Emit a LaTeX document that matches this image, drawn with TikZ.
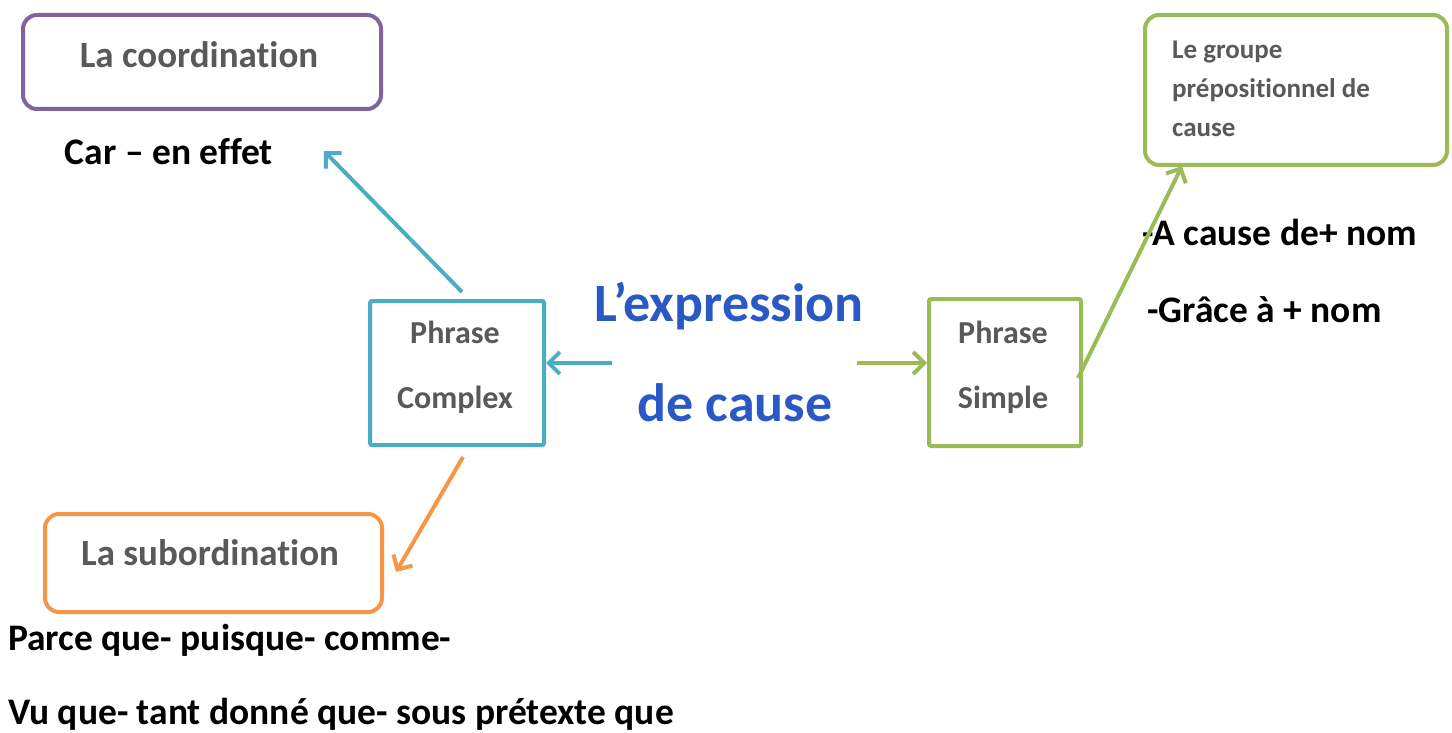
\documentclass[tikz,border=0pt]{standalone}
\usepackage{fontspec}
\setmainfont{Carlito}[Ligatures=NoCommon]
\usetikzlibrary{arrows.meta}
\definecolor{cpurple}{RGB}{128,100,162}
\definecolor{cblue}{RGB}{75,172,198}
\definecolor{cgreen}{RGB}{155,187,89}
\definecolor{corange}{RGB}{247,150,70}
\definecolor{cgray}{RGB}{89,89,89}
\definecolor{ctitle}{RGB}{42,88,196}
\tikzset{
  rbox/.style={draw, line width=4pt, rounded corners=14pt, fill=white},
  sbox/.style={draw, line width=4pt, rounded corners=2pt, fill=white},
  intext/.style={text=cgray, font=\bfseries\fontsize{32}{38}\selectfont},
  bigin/.style={text=cgray, font=\bfseries\fontsize{37}{44}\selectfont},
  blk/.style={text=black, font=\bfseries\fontsize{37.5}{44}\selectfont, inner sep=0pt},
  conn/.style={line width=4pt, -{Straight Barb[length=11pt,width=22pt,line width=4pt]}},
  title/.style={text=ctitle, font=\bfseries\fontsize{54}{64}\selectfont, inner sep=0pt}
}
\begin{document}
\begin{tikzpicture}[x=1pt,y=-1pt]
\useasboundingbox (0,0) rectangle (1452,733);
% boxes
\node[rbox, draw=cpurple, minimum width=358pt, minimum height=94pt, anchor=north west] (coord) at (21,13) {};
\node[bigin] at (199,55) {La coordination};
\node[rbox, draw=corange, minimum width=337pt, minimum height=98pt, anchor=north west] (sub) at (43,512) {};
\node[bigin] at (210,553) {La subordination};
\node[sbox, draw=cblue, minimum width=174pt, minimum height=144pt, anchor=north west] (pc) at (368,299) {};
\node[intext] at (455,332) {Phrase};
\node[intext] at (455,400) {Complex};
\node[sbox, draw=cgreen, minimum width=152pt, minimum height=147pt, anchor=north west] (ps) at (927,297) {};
\node[intext] at (1003,332) {Phrase};
\node[intext] at (1003,400) {Simple};
\node[rbox, draw=cgreen, minimum width=302pt, minimum height=150pt, anchor=north west] (grp) at (1143,13) {};
\node[text=cgray, font=\bfseries\fontsize{27}{39}\selectfont, align=left, anchor=west, inner sep=0pt] at (1172,89) {Le groupe\\prépositionnel de\\cause};
% title
\node[title] (t1) at (729,306) {L’expression};
\node[title] (t2) at (735,403) {de cause};
% texts
\node[blk] (car) at (169,152) {Car – en effet};
\node[blk, anchor=west] (acause) at (1142,232) {-A cause de+ nom};
\node[blk, anchor=west] (grace) at (1147,310) {-Grâce à + nom};
\node[blk, anchor=west] (parce) at (8,640) {Parce que- puisque- comme-};
\node[blk, anchor=west] (vu) at (8,714) {Vu que- tant donné que- sous prétexte que};
% connectors
\coordinate (c1) at (612,363);
\coordinate (c2) at (857,363);
\coordinate (c3) at (462,292);
\coordinate (c4) at (463,457);
\coordinate (c5) at (1078,378);
\coordinate (e3) at (324,151);
\coordinate (e4) at (396,572);
\coordinate (e5) at (1182,166);
\draw[conn, draw=cblue] (c1) -- (c1 -| pc.east);
\draw[conn, draw=cgreen] (c2) -- (c2 -| ps.west);
\draw[conn, draw=cblue] (c3) -- (e3);
\draw[conn, draw=corange] (c4) -- (e4);
\draw[conn, draw=cgreen] (c5) -- (e5);
\end{tikzpicture}
\end{document}
